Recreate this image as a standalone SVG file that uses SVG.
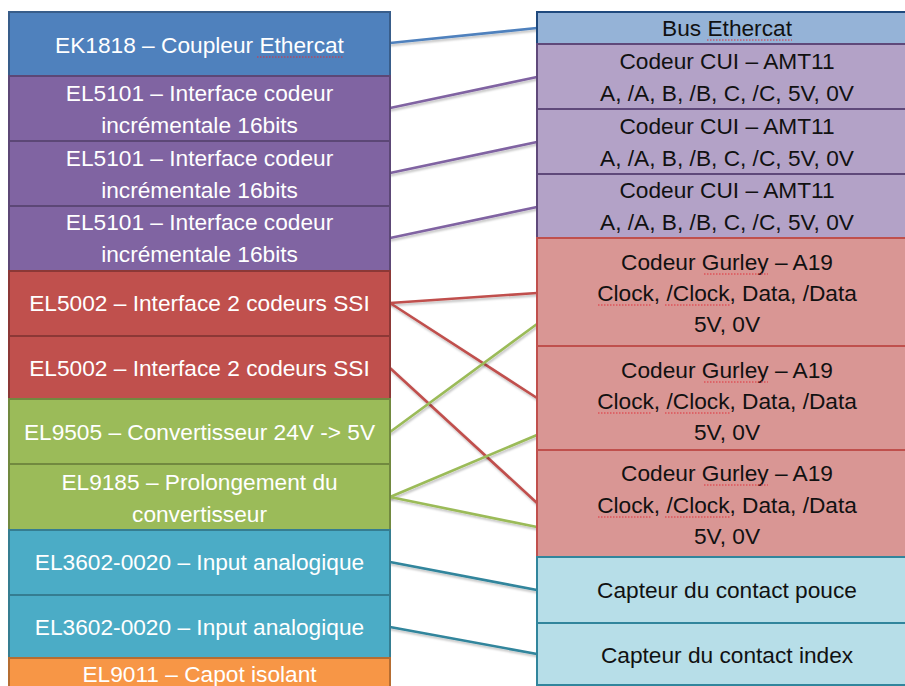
<svg xmlns="http://www.w3.org/2000/svg" width="905" height="686" viewBox="0 0 905 686">
<style>
text{font-family:"Liberation Sans",Arial,sans-serif;font-size:22.7px;text-anchor:middle}
.l{fill:#FFFFFF}
.r{fill:#111111}
.box{stroke-width:2}
.c{fill:none;stroke-width:2.6;stroke-linecap:round;filter:url(#sh)}
.sq{fill:none;stroke:#E0303A;stroke-width:1;stroke-dasharray:1.5,1.5}
</style>
<defs>
<filter id="sh" x="-10%" y="-50%" width="120%" height="200%">
<feDropShadow dx="1" dy="2" stdDeviation="1.2" flood-color="#000" flood-opacity="0.25"/>
</filter>
</defs>
<rect width="905" height="686" fill="#FFFFFF"/>
<g id="connectors">
<line class="c" stroke="#4F81BD" x1="390" y1="43" x2="537" y2="28"/>
<line class="c" stroke="#8064A2" x1="390" y1="108" x2="537" y2="77"/>
<line class="c" stroke="#8064A2" x1="390" y1="173" x2="537" y2="142"/>
<line class="c" stroke="#8064A2" x1="390" y1="238" x2="537" y2="207"/>
<line class="c" stroke="#C0504D" x1="390" y1="303" x2="537" y2="293"/>
<line class="c" stroke="#C0504D" x1="390" y1="303" x2="537" y2="398"/>
<line class="c" stroke="#C0504D" x1="390" y1="368" x2="537" y2="503"/>
<line class="c" stroke="#9BBB59" x1="390" y1="432" x2="537" y2="324"/>
<line class="c" stroke="#9BBB59" x1="390" y1="497" x2="537" y2="435"/>
<line class="c" stroke="#9BBB59" x1="390" y1="497" x2="537" y2="527"/>
<line class="c" stroke="#31859C" x1="390" y1="562" x2="537" y2="590"/>
<line class="c" stroke="#31859C" x1="390" y1="627" x2="537" y2="654"/>
</g>
<g id="ek1818"><rect class="box" x="9" y="12" width="381" height="64" fill="#4F81BD" stroke="#385D8A"/><text class="l" x="199.5" y="53">EK1818 – Coupleur Ethercat</text></g>
<g id="el5101a"><rect class="box" x="9" y="76" width="381" height="65" fill="#8064A2" stroke="#5C4776"/><text class="l" x="199.5" y="101">EL5101 – Interface codeur</text><text class="l" x="199.5" y="133">incrémentale 16bits</text></g>
<g id="el5101b"><rect class="box" x="9" y="141" width="381" height="65" fill="#8064A2" stroke="#5C4776"/><text class="l" x="199.5" y="166">EL5101 – Interface codeur</text><text class="l" x="199.5" y="198">incrémentale 16bits</text></g>
<g id="el5101c"><rect class="box" x="9" y="206" width="381" height="65" fill="#8064A2" stroke="#5C4776"/><text class="l" x="199.5" y="230">EL5101 – Interface codeur</text><text class="l" x="199.5" y="262">incrémentale 16bits</text></g>
<g id="el5002a"><rect class="box" x="9" y="271" width="381" height="65" fill="#C0504D" stroke="#8C3836"/><text class="l" x="199.5" y="311">EL5002 – Interface 2 codeurs SSI</text></g>
<g id="el5002b"><rect class="box" x="9" y="336" width="381" height="63" fill="#C0504D" stroke="#8C3836"/><text class="l" x="199.5" y="376">EL5002 – Interface 2 codeurs SSI</text></g>
<g id="el9505"><rect class="box" x="9" y="399" width="381" height="65" fill="#9BBB59" stroke="#71893F"/><text class="l" x="199.5" y="440">EL9505 – Convertisseur 24V -&gt; 5V</text></g>
<g id="el9185"><rect class="box" x="9" y="464" width="381" height="66" fill="#9BBB59" stroke="#71893F"/><text class="l" x="199.5" y="490">EL9185 – Prolongement du</text><text class="l" x="199.5" y="522">convertisseur</text></g>
<g id="el3602a"><rect class="box" x="9" y="530" width="381" height="65" fill="#4BACC6" stroke="#357D91"/><text class="l" x="199.5" y="570">EL3602-0020 – Input analogique</text></g>
<g id="el3602b"><rect class="box" x="9" y="595" width="381" height="63" fill="#4BACC6" stroke="#357D91"/><text class="l" x="199.5" y="635">EL3602-0020 – Input analogique</text></g>
<g id="el9011"><rect class="box" x="9" y="658" width="381" height="40" fill="#F79646" stroke="#B66D31"/><text class="l" x="199.5" y="682">EL9011 – Capot isolant</text></g>
<g id="bus"><rect class="box" x="537" y="12" width="380" height="32" fill="#95B3D7" stroke="#1F497D"/><text class="r" x="727" y="36">Bus Ethercat</text></g>
<g id="cui1"><rect class="box" x="537" y="44" width="380" height="65" fill="#B3A2C7" stroke="#5F497A"/><text class="r" x="727" y="69">Codeur CUI – AMT11</text><text class="r" x="727" y="101">A, /A, B, /B, C, /C, 5V, 0V</text></g>
<g id="cui2"><rect class="box" x="537" y="109" width="380" height="65" fill="#B3A2C7" stroke="#5F497A"/><text class="r" x="727" y="134">Codeur CUI – AMT11</text><text class="r" x="727" y="166">A, /A, B, /B, C, /C, 5V, 0V</text></g>
<g id="cui3"><rect class="box" x="537" y="174" width="380" height="64" fill="#B3A2C7" stroke="#5F497A"/><text class="r" x="727" y="198">Codeur CUI – AMT11</text><text class="r" x="727" y="230">A, /A, B, /B, C, /C, 5V, 0V</text></g>
<g id="gurley1"><rect class="box" x="537" y="238" width="380" height="108" fill="#D99694" stroke="#C0504D"/><text class="r" x="727" y="270">Codeur Gurley – A19</text><text class="r" x="727" y="301">Clock, /Clock, Data, /Data</text><text class="r" x="727" y="332">5V, 0V</text></g>
<g id="gurley2"><rect class="box" x="537" y="346" width="380" height="104" fill="#D99694" stroke="#C0504D"/><text class="r" x="727" y="378">Codeur Gurley – A19</text><text class="r" x="727" y="409">Clock, /Clock, Data, /Data</text><text class="r" x="727" y="440">5V, 0V</text></g>
<g id="gurley3"><rect class="box" x="537" y="450" width="380" height="107" fill="#D99694" stroke="#C0504D"/><text class="r" x="727" y="481">Codeur Gurley – A19</text><text class="r" x="727" y="513">Clock, /Clock, Data, /Data</text><text class="r" x="727" y="544">5V, 0V</text></g>
<g id="pouce"><rect class="box" x="537" y="557" width="380" height="66" fill="#B7DEE8" stroke="#31859C"/><text class="r" x="727" y="598">Capteur du contact pouce</text></g>
<g id="index"><rect class="box" x="537" y="623" width="380" height="62" fill="#B7DEE8" stroke="#31859C"/><text class="r" x="727" y="663">Capteur du contact index</text></g>
<g id="spellcheck">
<line class="sq" x1="257" y1="57" x2="344" y2="57"/>
<line class="sq" x1="707" y1="40" x2="792" y2="40"/>
<line class="sq" x1="704" y1="274" x2="768" y2="274"/>
<line class="sq" x1="598" y1="305" x2="652" y2="305"/>
<line class="sq" x1="665" y1="305" x2="730" y2="305"/>
<line class="sq" x1="704" y1="382" x2="768" y2="382"/>
<line class="sq" x1="598" y1="413" x2="652" y2="413"/>
<line class="sq" x1="665" y1="413" x2="730" y2="413"/>
<line class="sq" x1="704" y1="485" x2="768" y2="485"/>
<line class="sq" x1="598" y1="517" x2="652" y2="517"/>
<line class="sq" x1="665" y1="517" x2="730" y2="517"/>
</g>
</svg>
